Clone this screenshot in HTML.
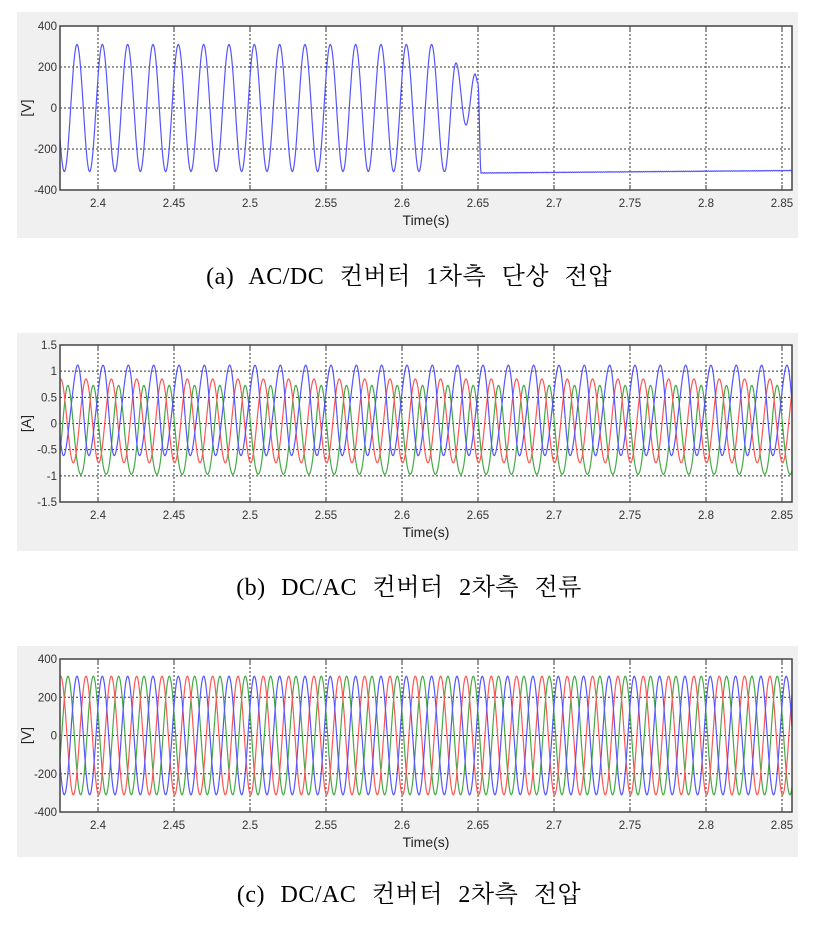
<!DOCTYPE html>
<html><head><meta charset="utf-8"><style>
body{margin:0;width:818px;height:926px;background:#fff;overflow:hidden}
.cap{position:absolute;left:0;width:818px;text-align:center;font-family:"Liberation Serif","Noto Serif CJK SC",serif;font-size:24px;color:#000;word-spacing:9px;letter-spacing:0.5px}
svg text{font-family:"Liberation Sans",Arial,sans-serif}
</style></head><body>
<svg id="s" width="818" height="926" style="position:absolute;left:0;top:0"></svg>
<div class="cap" style="top:256px">(a) AC/DC 컨버터 1차측 단상 전압</div>
<div class="cap" style="top:567px">(b) DC/AC 컨버터 2차측 전류</div>
<div class="cap" style="top:874px">(c) DC/AC 컨버터 2차측 전압</div>
<script>
const svg=document.getElementById('s');let h='';
const L=60,R=792,t0=2.375,pps=1520;
const X=t=>L+(t-t0)*pps;
function panel(bgT,bgB,top,bot,ymin,ymax,yt,ylab,series){
 h+=`<rect x="17" y="${bgT}" width="781" height="${bgB-bgT}" fill="#f0f0f0"/>`;
 h+=`<rect x="${L}" y="${top}" width="${R-L}" height="${bot-top}" fill="#fff"/>`;
 const Y=v=>bot-(v-ymin)/(ymax-ymin)*(bot-top);
 for(const v of yt){const y=Y(v);
  if(v>ymin&&v<ymax)h+=`<line x1="${L}" x2="${R}" y1="${y}" y2="${y}" stroke="#333" stroke-width="1" stroke-dasharray="2,2"/>`;
  h+=`<text x="${L-3}" y="${y+4}" font-size="11.5" text-anchor="end" fill="#333">${v}</text>`;}
 for(let i=0;i<=9;i++){const t=2.4+i*0.05,x=X(t);
  h+=`<line x1="${x}" x2="${x}" y1="${top}" y2="${bot}" stroke="#333" stroke-width="1" stroke-dasharray="2,2"/>`;
  h+=`<line x1="${x}" x2="${x}" y1="${bot-5}" y2="${bot}" stroke="#333"/><line x1="${x}" x2="${x}" y1="${top}" y2="${top+5}" stroke="#333"/>`;
  h+=`<text x="${x}" y="${bot+17}" font-size="11.5" text-anchor="middle" fill="#333">${+t.toFixed(2)}</text>`;}
 for(const [c,f] of series){let d='';for(let x=L;x<=R;x+=0.5){d+=(x==L?'M':'L')+x.toFixed(1)+','+Y(f(x)).toFixed(1);}
  h+=`<path d="${d}" fill="none" stroke="${c}" stroke-width="1.2"/>`;}
 h+=`<rect x="${L}" y="${top}" width="${R-L}" height="${bot-top}" fill="none" stroke="#444" stroke-width="1.5"/>`;
 h+=`<text x="426" y="${bot+35}" font-size="14" text-anchor="middle" fill="#222">Time(s)</text>`;
 const my=(top+bot)/2;
 h+=`<text x="0" y="0" font-size="14" text-anchor="middle" fill="#222" transform="translate(31,${my}) rotate(-90)">${ylab}</text>`;
}
const P=25.33;
const sn=(x,ph)=>Math.sin(2*Math.PI*((x-77)/P+0.25-ph));
const B='#5555ff',Rr='#ff5555',G='#44aa44';
const kp=[[444.6,-310],[456,220],[466,-83],[475,166],[478,120],[481,-317]];
function fa(x){
 if(x<kp[0][0])return 310*sn(x,0);
 for(let i=0;i<kp.length-1;i++){const [a,va]=kp[i],[b,vb]=kp[i+1];
  if(x<=b){const u=(x-a)/(b-a);return va+(vb-va)*(1-Math.cos(Math.PI*u))/2;}}
 return -317+(x-481)/(R-481)*12+Math.sin(x*3)*1.2;
}
panel(12,238,26,190,-400,400,[400,200,0,-200,-400],'[V]',[[B,fa]]);
const sh=9/P;
panel(333,551,345,502,-1.5,1.5,[1.5,1,0.5,0,-0.5,-1,-1.5],'[A]',[
 [G,x=>-0.18+0.85*sn(x,-sh)+0.06*Math.sin(4*Math.PI*(x-77)/P)],
 [Rr,x=>0.05+0.8*sn(x,sh)],
 [B,x=>0.25+0.85*sn(x,0)+0.08*Math.sin(4*Math.PI*(x-77)/P)]]);
panel(646,857,659,812,-400,400,[400,200,0,-200,-400],'[V]',[
 [G,x=>310*sn(x,-sh)],[Rr,x=>310*sn(x,sh)],[B,x=>310*sn(x,0)]]);
svg.innerHTML=h;
</script>
</body></html>
